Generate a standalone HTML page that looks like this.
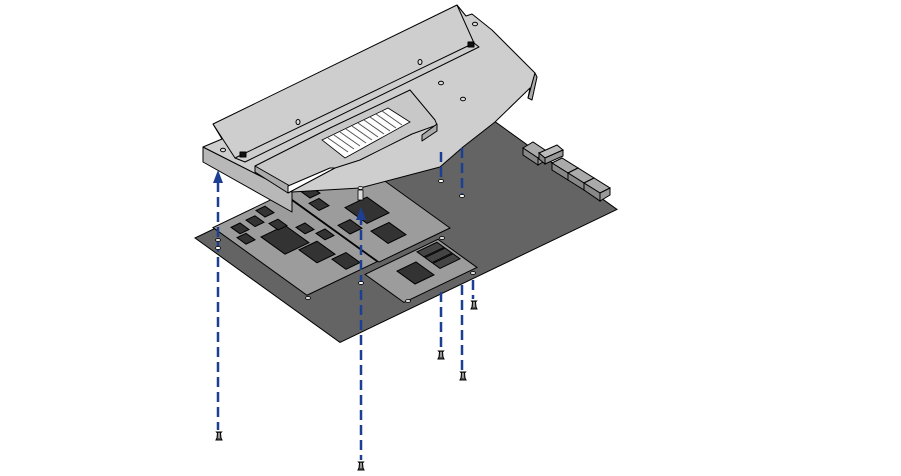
<!DOCTYPE html>
<html><head><meta charset="utf-8"><style>
html,body{margin:0;padding:0;background:#fff;}
svg{display:block;}
</style></head><body>
<svg width="901" height="476" viewBox="0 0 901 476" xmlns="http://www.w3.org/2000/svg">
<defs>
<g id="screw"><path d="M-3,0 L3,0 L2,-2 L1.5,-7 L2.5,-8 L-2.5,-8 L-1.5,-7 L-2,-2 Z" fill="#555" stroke="#000" stroke-width="1"/><line x1="0" y1="-7" x2="0" y2="-2" stroke="#ddd" stroke-width="1"/></g>
</defs>

<!-- base board -->
<g transform="matrix(1,0.72,1,-0.48,195,238)">
  <rect x="0" y="0" width="145" height="277" fill="#646464" stroke="#000" stroke-width="1" vector-effect="non-scaling-stroke"/>
</g>
<!-- card 2 -->
<g transform="matrix(1,0.72,1,-0.48,195,234)">
  <rect x="-20" y="87" width="117" height="71" fill="#9c9c9c" stroke="#000" vector-effect="non-scaling-stroke"/>
  <rect x="68" y="108" width="17" height="18" fill="#333" stroke="#000" vector-effect="non-scaling-stroke"/>
  <rect x="38" y="112" width="22" height="22" fill="#333" stroke="#000" vector-effect="non-scaling-stroke"/>
  <rect x="20" y="94" width="10" height="10" fill="#333" stroke="#000" vector-effect="non-scaling-stroke"/>
  <rect x="6" y="99" width="10" height="10" fill="#333" stroke="#000" vector-effect="non-scaling-stroke"/>
  <rect x="50" y="93" width="12" height="12" fill="#333" stroke="#000" vector-effect="non-scaling-stroke"/>
</g>
<!-- card 1 -->
<g transform="matrix(1,0.72,1,-0.48,195,235)">
  <rect x="1" y="17" width="94" height="70" fill="#9c9c9c" stroke="#000" vector-effect="non-scaling-stroke"/>
  <rect x="28" y="38" width="24" height="24" fill="#333" stroke="#000" vector-effect="non-scaling-stroke"/>
  <rect x="54" y="50" width="18" height="18" fill="#333" stroke="#000" vector-effect="non-scaling-stroke"/>
  <rect x="75" y="62" width="14" height="14" fill="#333" stroke="#000" vector-effect="non-scaling-stroke"/>
  <rect x="8" y="28" width="9" height="9" fill="#333" stroke="#000" vector-effect="non-scaling-stroke"/>
  <rect x="19" y="23" width="9" height="9" fill="#333" stroke="#000" vector-effect="non-scaling-stroke"/>
  <rect x="8" y="43" width="9" height="9" fill="#333" stroke="#000" vector-effect="non-scaling-stroke"/>
  <rect x="20" y="54" width="9" height="9" fill="#333" stroke="#000" vector-effect="non-scaling-stroke"/>
  <rect x="4" y="57" width="9" height="9" fill="#333" stroke="#000" vector-effect="non-scaling-stroke"/>
  <rect x="34" y="67" width="9" height="9" fill="#333" stroke="#000" vector-effect="non-scaling-stroke"/>
  <rect x="47" y="74" width="9" height="9" fill="#333" stroke="#000" vector-effect="non-scaling-stroke"/>
</g>
<!-- card 3 -->
<g transform="matrix(1,0.72,1,-0.48,195,236)">
  <rect x="100" y="70" width="39" height="73" fill="#9c9c9c" stroke="#000" vector-effect="non-scaling-stroke"/>
  <rect x="110" y="92" width="18" height="19" fill="#333" stroke="#000" vector-effect="non-scaling-stroke"/>
  <rect x="102" y="120" width="7" height="20" fill="#444" stroke="#000" vector-effect="non-scaling-stroke"/>
  <rect x="110" y="120" width="7" height="20" fill="#444" stroke="#000" vector-effect="non-scaling-stroke"/>
  <rect x="118" y="120" width="7" height="20" fill="#444" stroke="#000" vector-effect="non-scaling-stroke"/>
</g>
<!-- standoffs -->
<g fill="#ddd" stroke="#000" stroke-width="0.8">
<ellipse cx="308" cy="298" rx="2.5" ry="1.5"/><ellipse cx="408" cy="301" rx="2.5" ry="1.5"/><ellipse cx="473" cy="273" rx="2.5" ry="1.5"/><ellipse cx="442" cy="238" rx="2.5" ry="1.5"/><ellipse cx="218" cy="240" rx="2.5" ry="1.5"/>
</g>

<!-- connectors -->
<g stroke="#000" stroke-width="1">
<polygon points="523,148 533,142 548,152 538,158" fill="#aaa"/><polygon points="523,148 538,158 538,165 523,155" fill="#888"/><polygon points="538,158 548,152 548,159 538,165" fill="#999"/>
<polygon points="539,153 557,145 563,150 545,158" fill="#bbb"/><polygon points="545,158 563,150 563,156 545,164" fill="#999"/><polygon points="539,153 545,158 545,164 539,159" fill="#888"/>
<polygon points="552,163 562,158 578,168 568,173" fill="#aaa"/><polygon points="552,163 568,173 568,180 552,170" fill="#888"/>
<polygon points="568,173 578,168 594,178 584,183" fill="#aaa"/><polygon points="568,180 568,173 584,183 584,190" fill="#888"/>
<polygon points="584,183 594,178 610,188 600,193" fill="#aaa"/><polygon points="584,190 584,183 600,193 600,201" fill="#888"/><polygon points="600,193 610,188 610,195 600,201" fill="#999"/>
</g>

<!-- heatsink -->
<g stroke="#000" stroke-width="1" stroke-linejoin="round">
  <polygon points="203,147 292,192 292,212 203,162" fill="#b8b8b8"/>
  <polygon points="203,147 222,139 213,124 457,5 466,16 472,14 492,30 535,73 528,98 530,88 495,122 463,147 440,167 360,188 292,192" fill="#cecece"/>
  <polygon points="528,98 535,73 537,77 532,100" fill="#aaa"/>
  <polyline points="213,124 235,158" fill="none"/>
  <polyline points="457,5 474,43" fill="none"/>
  <polygon points="235,158 474,43 479,47 245,162" fill="#cecece"/>
  <polygon points="255,166 330,128 410,90 435,120 437,125 412,134 360,160 335,168 285,190 255,172" fill="#c8c8c8"/>
  <polygon points="255,166 255,172 288,193 290,186" fill="#aaa"/>
  <polygon points="288,186 330,168 335,168 288,193" fill="#fff"/>
  <polygon points="437,124 437,131 422,141 422,135" fill="#aaa"/>
  <ellipse cx="298" cy="122" rx="2" ry="2.5" fill="#ddd"/>
  <ellipse cx="420" cy="62" rx="2" ry="2.5" fill="#ddd"/>
  <ellipse cx="441" cy="83" rx="2.5" ry="1.8" fill="#ddd"/>
  <ellipse cx="463" cy="99" rx="2.5" ry="1.8" fill="#ddd"/>
  <ellipse cx="475" cy="24" rx="2.5" ry="1.8" fill="#ddd"/>
  <ellipse cx="223" cy="150" rx="2.5" ry="1.8" fill="#ddd"/>
  <rect x="240" y="152" width="6" height="5" fill="#111"/>
  <rect x="468" y="42" width="6" height="5" fill="#111"/>
</g>
<g stroke="#000" stroke-width="0.8" fill="#fff">
  <polygon points="322,140 388,108 410,122 345,158"/>
</g>
<g stroke="#555" stroke-width="1">
  <line x1="328" y1="138" x2="348" y2="152"/><line x1="334" y1="135" x2="354" y2="149"/><line x1="340" y1="132" x2="360" y2="146"/><line x1="346" y1="129" x2="366" y2="143"/><line x1="352" y1="126" x2="372" y2="140"/><line x1="358" y1="123" x2="378" y2="137"/><line x1="364" y1="120" x2="384" y2="134"/><line x1="370" y1="117" x2="390" y2="131"/><line x1="376" y1="114" x2="396" y2="128"/><line x1="382" y1="111" x2="402" y2="125"/>
</g>
<rect x="358" y="190" width="5" height="10" fill="#ddd" stroke="#000" stroke-width="0.8"/>
<ellipse cx="360.5" cy="188" rx="2.5" ry="1.5" fill="#ddd" stroke="#000" stroke-width="0.8"/>

<!-- dashed guides -->
<g stroke="#1c3f91" stroke-width="2.5" stroke-dasharray="10,5" fill="none">
  <line x1="218" y1="182" x2="218" y2="430"/>
  <line x1="361" y1="215" x2="361" y2="460"/>
  <line x1="441" y1="152" x2="441" y2="180"/>
  <line x1="441" y1="292" x2="441" y2="348"/>
  <line x1="462" y1="148" x2="462" y2="194"/>
  <line x1="462" y1="285" x2="462" y2="370"/>
  <line x1="473" y1="280" x2="473" y2="299"/>
</g>
<g fill="#1c3f91">
  <polygon points="218,170 213,183 223,183"/>
  <polygon points="361,207 356,220 366,220"/>
</g>
<g fill="#fff" stroke="#000" stroke-width="0.8">
  <ellipse cx="441" cy="181" rx="2.5" ry="1.5"/><ellipse cx="462" cy="196" rx="2.5" ry="1.5"/><ellipse cx="361" cy="283" rx="2.5" ry="1.5"/><ellipse cx="218" cy="248" rx="2.5" ry="1.5"/>
</g>
<use href="#screw" x="219" y="440"/>
<use href="#screw" x="361" y="470"/>
<use href="#screw" x="441" y="359"/>
<use href="#screw" x="463" y="380"/>
<use href="#screw" x="474" y="309"/>
</svg>
</body></html>
